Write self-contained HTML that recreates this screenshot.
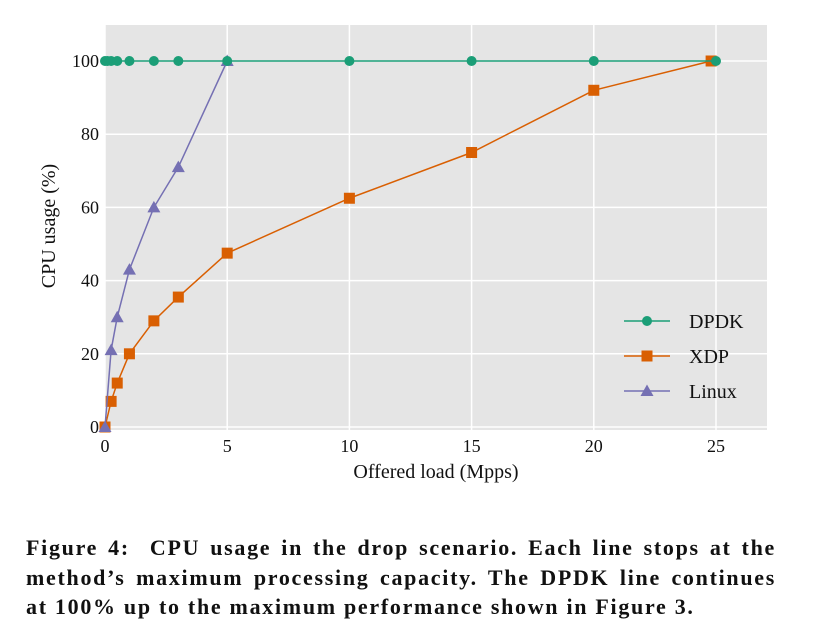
<!DOCTYPE html>
<html><head><meta charset="utf-8"><style>
body{margin:0;background:#fff;width:817px;height:643px;overflow:hidden;font-family:"Liberation Serif",serif}
#cap{position:absolute;left:26px;top:533px;width:750px;font-weight:bold;font-size:22px;letter-spacing:1.7px;line-height:29.5px;color:#111}
#cap div{text-align:justify;text-align-last:justify;white-space:nowrap}
#cap div.last{text-align-last:left}
</style></head><body>
<svg id="chart" width="817" height="520" style="position:absolute;left:0;top:0" font-family="Liberation Serif, serif"></svg>
<div id="cap">
<div>Figure 4:&nbsp; CPU usage in the drop scenario. Each line stops at the</div>
<div>method’s maximum processing capacity. The DPDK line continues</div>
<div class="last">at 100% up to the maximum performance shown in Figure 3.</div>
</div>
<script>
const xTicks=[0,5,10,15,20,25];
const yTicks=[0,20,40,60,80,100];
const dpdkX=[0,0.1,0.25,0.5,1,2,3,5,10,15,20,25];
const dpdkY=[100,100,100,100,100,100,100,100,100,100,100,100];
const xdpX=[0,0.25,0.5,1,2,3,5,10,15,20,24.8];
const xdpY=[0,7,12,20,29,35.5,47.5,62.5,75,92,100];
const linuxX=[0,0.25,0.5,1,2,3,5];
const linuxY=[0,21,30,43,60,71,100];
const L=105,R=767,T=25,B=427;
const sx=v=>L+v*24.44, sy=v=>B-v*3.66;
const svg=document.getElementById('chart');
const NS='http://www.w3.org/2000/svg';
function mk(t,a,p){const e=document.createElementNS(NS,t);for(const k in a)e.setAttribute(k,a[k]);(p||svg).appendChild(e);return e;}
let e=mk('rect',{x:L,y:T,width:R-L,height:B-T+3,fill:'#e5e5e5'});

xTicks.forEach(v=>{let g=mk('line',{x1:sx(v),x2:sx(v),y1:T,y2:B+3,stroke:'#fff','stroke-width':1.5});

let t=mk('text',{x:sx(v),y:B+25,'text-anchor':'middle','font-size':18,fill:'#111'});t.textContent=v;
});
yTicks.forEach(v=>{let g=mk('line',{x1:L,x2:R,y1:sy(v),y2:sy(v),stroke:'#fff','stroke-width':1.5});

let t=mk('text',{x:L-6,y:sy(v)+6,'text-anchor':'end','font-size':18,fill:'#111'});t.textContent=v;
});
let xt=mk('text',{x:436,y:478,'text-anchor':'middle','font-size':20,fill:'#111'});xt.textContent='Offered load (Mpps)';

let yt=mk('text',{x:55,y:226,'text-anchor':'middle','font-size':20,fill:'#111',transform:'rotate(-90 55 226)'});yt.textContent='CPU usage (%)';

function marker(shape,x,y,c,p){
 if(shape==='c')return mk('circle',{cx:x,cy:y,r:5,fill:c},p);
 if(shape==='s')return mk('rect',{x:x-5.5,y:y-5.5,width:11,height:11,fill:c},p);
 return mk('polygon',{points:`${x},${y-6.5} ${x+6.5},${y+5} ${x-6.5},${y+5}`,fill:c},p);}
function series(xs,ys,c,shape,name){
 const g=mk('g',{});
 let l=mk('polyline',{points:xs.map((x,i)=>sx(x)+','+sy(ys[i])).join(' '),fill:'none',stroke:c,'stroke-width':1.5},g);
 
 xs.forEach((x,i)=>{let m=marker(shape,sx(x),sy(ys[i]),c,g);
 });}
series(xdpX,xdpY,'#d95f02','s','xdp');
series(linuxX,linuxY,'#7570b3','t','linux');
series(dpdkX,dpdkY,'#1b9e77','c','dpdk');
[['DPDK','#1b9e77','c',321],['XDP','#d95f02','s',356],['Linux','#7570b3','t',391]].forEach(([n,c,s,y])=>{
 const g=mk('g',{});
 mk('line',{x1:624,x2:670,y1:y,y2:y,stroke:c,'stroke-width':1.5},g);marker(s,647,y,c,g);
 let t=mk('text',{x:689,y:y+7,'font-size':20,fill:'#111'},g);t.textContent=n;});
</script>
</body></html>
